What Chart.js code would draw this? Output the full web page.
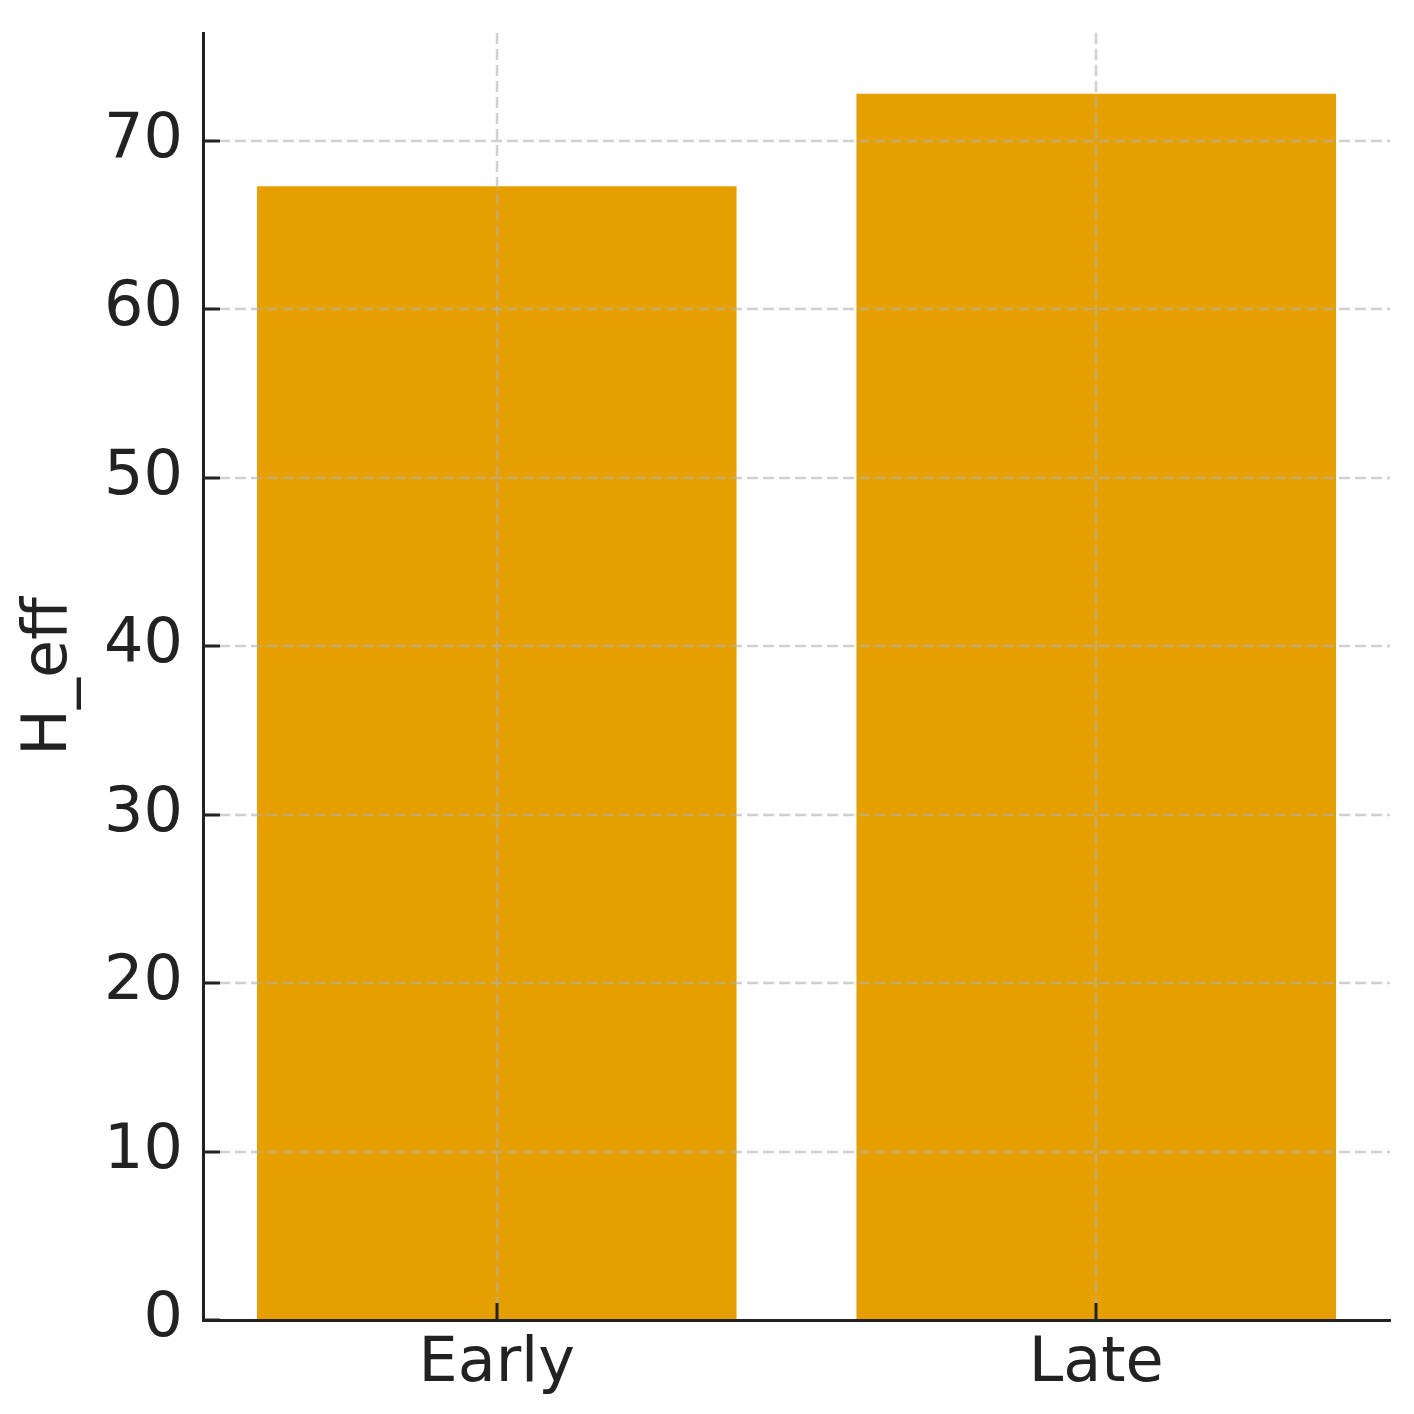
<!DOCTYPE html>
<html>
<head>
<meta charset="utf-8">
<script src="https://cdn.jsdelivr.net/npm/chart.js@4"></script>
<style>
html,body{margin:0;padding:0;background:#fff;}
#wrap{width:1414px;height:1414px;}
</style>
</head>
<body>
<div id="wrap"><canvas id="c" width="1414" height="1414"></canvas></div>
<script>
const categories = ["Early", "Late"];
const values = [67.3, 72.8];
const yTicks = [0, 10, 20, 30, 40, 50, 60, 70];
const yLabel = "H_eff";

const FONT = "'DejaVu Sans', sans-serif";
const INK = "#222222";
const BAR = "#e5a000";
const GRID = "rgba(176,176,176,0.6)";

// dashed grid drawn over the bars, then axis spines and inward tick marks (matplotlib style)
const overlay = {
  id: 'overlay',
  afterDatasetsDraw(chart) {
    const ctx = chart.ctx;
    const xs = chart.scales.x, ys = chart.scales.y;
    const a = chart.chartArea;
    ctx.save();
    ctx.strokeStyle = GRID;
    ctx.lineWidth = 2.5;
    ctx.setLineDash([11, 5]);
    ys.ticks.forEach(t => {
      const y = Math.round(ys.getPixelForValue(t.value));
      if (Math.abs(y - a.bottom) < 2) return;
      ctx.beginPath(); ctx.moveTo(a.left, y); ctx.lineTo(a.right, y); ctx.stroke();
    });
    xs.ticks.forEach(t => {
      const x = Math.round(xs.getPixelForValue(t.value));
      ctx.beginPath(); ctx.moveTo(x, a.top); ctx.lineTo(x, a.bottom); ctx.stroke();
    });
    ctx.restore();
  },
  afterDraw(chart) {
    const ctx = chart.ctx;
    const xs = chart.scales.x, ys = chart.scales.y;
    const a = chart.chartArea;
    ctx.save();
    ctx.strokeStyle = INK;
    ctx.lineWidth = 3;
    ys.ticks.forEach(t => {
      const y = Math.round(ys.getPixelForValue(t.value));
      ctx.beginPath(); ctx.moveTo(a.left, y); ctx.lineTo(a.left + 17, y); ctx.stroke();
    });
    xs.ticks.forEach(t => {
      const x = Math.round(xs.getPixelForValue(t.value));
      ctx.beginPath(); ctx.moveTo(x, a.bottom); ctx.lineTo(x, a.bottom - 17); ctx.stroke();
    });
    ctx.restore();
  }
};

new Chart(document.getElementById('c'), {
  type: 'bar',
  data: {
    datasets: [{
      data: categories.map((c, i) => ({x: i, y: values[i]})),
      backgroundColor: BAR,
      borderWidth: 0,
      barPercentage: 0.8,
      categoryPercentage: 1.0
    }]
  },
  options: {
    responsive: false,
    devicePixelRatio: 1,
    animation: false,
    layout: {padding: {left: 0, top: 33, right: 24, bottom: 0}},
    plugins: {legend: {display: false}, tooltip: {enabled: false}},
    scales: {
      x: {
        type: 'linear',
        offset: false,
        min: -0.49, max: 1.49,
        afterBuildTicks: s => { s.ticks = categories.map((c, i) => ({value: i})); },
        afterFit: s => { s.height = 94; s.paddingLeft = 0; s.paddingRight = 0; },
        ticks: {
          callback: v => categories[v] !== undefined ? categories[v] : '',
          font: {family: FONT, size: 62},
          color: INK,
          padding: 8,
          maxRotation: 0
        },
        grid: {drawOnChartArea: false, drawTicks: false},
        border: {display: true, color: INK, width: 3, z: 1}
      },
      y: {
        min: 0, max: 76.4,
        afterBuildTicks: s => { s.ticks = yTicks.map(v => ({value: v})); },
        afterFit: s => { s.width = 203; s.paddingTop = 0; s.paddingBottom = 0; },
        ticks: {
          font: {family: FONT, size: 62},
          color: INK,
          padding: 20
        },
        grid: {drawOnChartArea: false, drawTicks: false},
        border: {display: true, color: INK, width: 3, z: 1},
        title: {display: true, text: yLabel, font: {family: FONT, size: 62}, color: INK, padding: {top: 13, bottom: 0}}
      }
    }
  },
  plugins: [overlay]
});
</script>
</body>
</html>
